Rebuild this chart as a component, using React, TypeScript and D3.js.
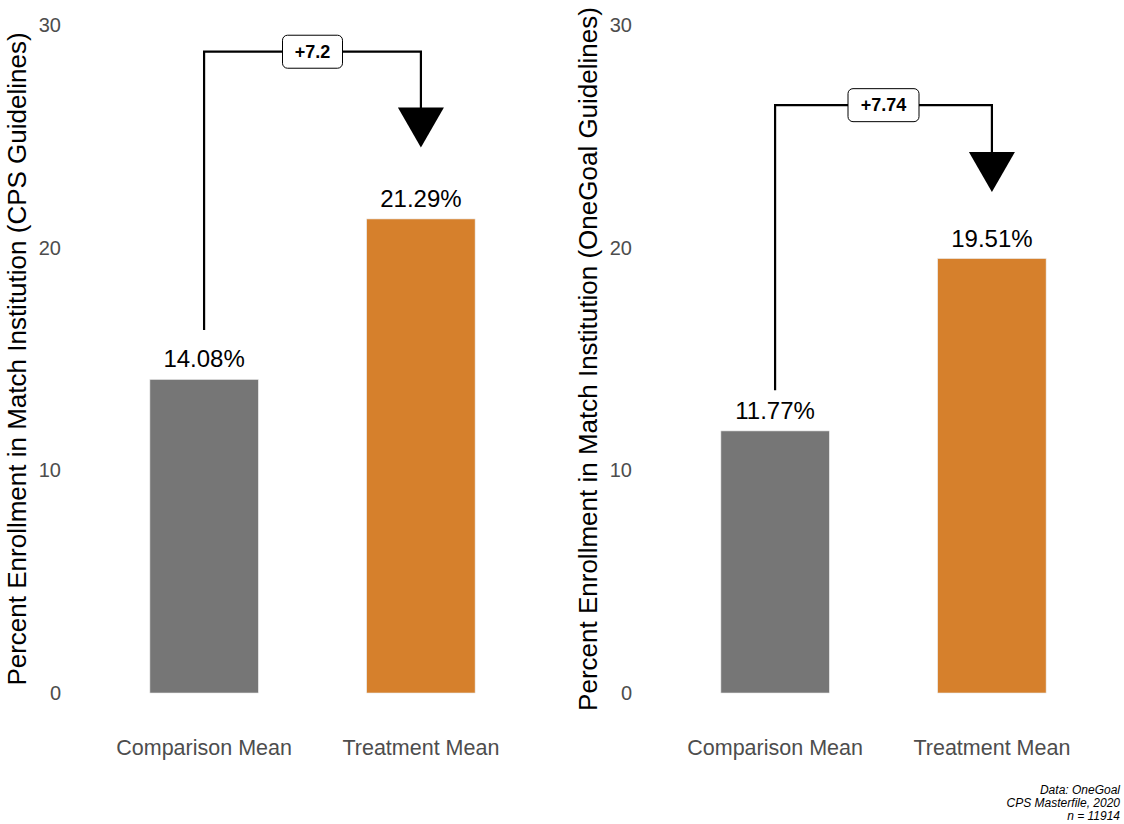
import React from "react";
import * as d3 from "d3";

const categories = ["Comparison Mean", "Treatment Mean"];
const cpsValues = [14.08, 21.29];
const oneGoalValues = [11.77, 19.51];
const yTicks = [0, 10, 20, 30];
const panelTitles = [
  "Percent Enrollment in Match Institution (CPS Guidelines)",
  "Percent Enrollment in Match Institution (OneGoal Guidelines)",
];
const diffLabels = ["+7.2", "+7.74"];
const connectorStart = [16.3, 13.6];
const connectorTop = [28.8, 26.4];
const arrowTip = [24.5, 22.5];
const captionLines = ["Data: OneGoal", "CPS Masterfile, 2020", "n = 11914"];
const barColors = ["#767676", "#D6802C"];

const W = 1124;
const H = 824;
const FONT = "'Liberation Sans', Arial, Helvetica, sans-serif";

function Panel({ left, values, title, diff, ci }: { left: number; values: number[]; title: string; diff: string; ci: number }) {
  const x = d3.scalePoint<string>().domain(categories).range([left, left + 477]).padding(0.6);
  const y = d3.scaleLinear().domain([0, 30]).range([693, 25]);
  const bw = x.step() * 0.5;
  const x1 = x(categories[0])!;
  const x2 = x(categories[1])!;
  const yStart = y(connectorStart[ci]);
  const yTop = y(connectorTop[ci]);
  const yTip = y(arrowTip[ci]);
  const headH = 40;
  const headW = 46;
  const midX = (x1 + x2) / 2;
  const boxW = diff.length * 11 + 16;
  const boxH = 33;
  return (
    <g>
      <text
        transform={`translate(${left - 57},${(y(0) + y(30)) / 2}) rotate(-90)`}
        textAnchor="middle"
        dominantBaseline="central"
        fontSize={26}
        fill="#000"
      >
        {title}
      </text>
      {yTicks.map((t) => (
        <text key={t} x={left - 13} y={y(t)} textAnchor="end" dominantBaseline="central" fontSize={20} fill="#4d4d4d">
          {t}
        </text>
      ))}
      {values.map((v, i) => (
        <g key={i}>
          <rect x={x(categories[i])! - bw / 2} y={y(v)} width={bw} height={y(0) - y(v)} fill={barColors[i]} stroke="#e8e8e8" strokeWidth={0.6} />
          <text x={x(categories[i])!} y={y(v) - 12} textAnchor="middle" fontSize={24} fill="#000">
            {v.toFixed(2) + "%"}
          </text>
          <text x={x(categories[i])!} y={748} textAnchor="middle" dominantBaseline="central" fontSize={21.5} fill="#4d4d4d">
            {categories[i]}
          </text>
        </g>
      ))}
      <path d={`M${x1},${yStart}V${yTop}H${x2}V${yTip - headH / 2}`} fill="none" stroke="#000" strokeWidth={2.2} />
      <path d={`M${x2 - headW / 2},${yTip - headH}L${x2 + headW / 2},${yTip - headH}L${x2},${yTip}Z`} fill="#000" />
      <rect x={midX - boxW / 2} y={yTop - boxH / 2} width={boxW} height={boxH} rx={5} fill="#fff" stroke="#000" strokeWidth={1} />
      <text x={midX} y={yTop} textAnchor="middle" dominantBaseline="central" fontSize={18} fontWeight="bold" fill="#000">
        {diff}
      </text>
    </g>
  );
}

export default function App() {
  return (
    <svg width={W} height={H} style={{ position: "absolute", left: 0, top: 0, background: "#fff" }} fontFamily={FONT}>
      <rect width={W} height={H} fill="#fff" />
      <Panel left={74} values={cpsValues} title={panelTitles[0]} diff={diffLabels[0]} ci={0} />
      <Panel left={645} values={oneGoalValues} title={panelTitles[1]} diff={diffLabels[1]} ci={1} />
      {captionLines.map((l, i) => (
        <text key={i} x={1120} y={794 + i * 13} textAnchor="end" fontSize={12} fontStyle="italic" fill="#000">
          {l}
        </text>
      ))}
    </svg>
  );
}
